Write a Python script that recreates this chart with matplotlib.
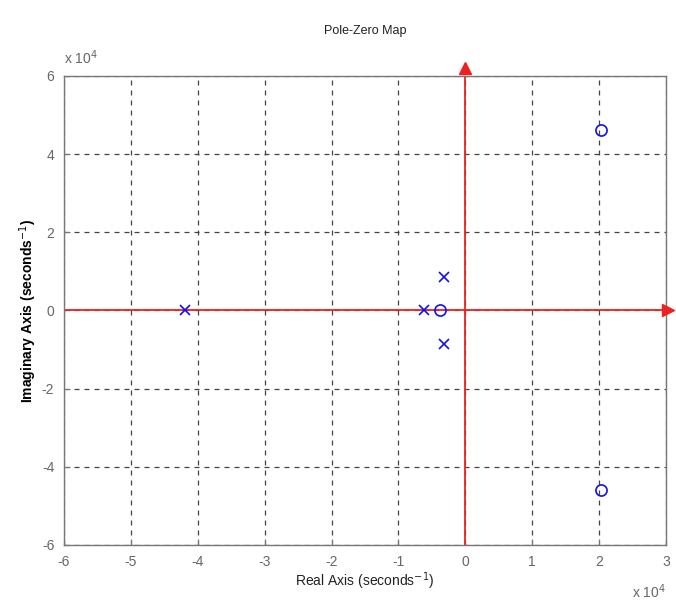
import matplotlib.pyplot as plt
from matplotlib.ticker import FuncFormatter, MultipleLocator

plt.rcParams['font.family'] = ['Liberation Sans', 'DejaVu Sans']

# pole / zero locations (rad/s)
pole_re = [-4.19e4, -0.62e4, -0.32e4, -0.32e4]
pole_im = [0.0, 0.0, 0.86e4, -0.86e4]
zero_re = [-0.38e4, 2.03e4, 2.03e4]
zero_im = [0.0, 4.62e4, -4.6e4]

xlim = (-6e4, 3e4)
ylim = (-6e4, 6e4)

fig = plt.figure(figsize=(6.76, 6.06), dpi=100)
ax = fig.add_axes([0.0947, 0.1007, 0.8903, 0.7739])

# red coordinate axes with arrowheads
ax.plot(xlim, [0, 0], color='#ee2020', lw=1.3, zorder=2)
ax.plot([0, 0], ylim, color='#ee2020', lw=1.3, zorder=2)
ax.plot([3.03e4], [0], marker='>', color='#ee2020', ms=9, clip_on=False, zorder=3)
ax.plot([0], [6.2e4], marker='^', color='#ee2020', ms=9, clip_on=False, zorder=3)

ax.plot(pole_re, pole_im, 'x', color='#1010ee', ms=7, mew=1.2, ls='none', zorder=4)
ax.plot(zero_re, zero_im, 'o', color='#1010ee', ms=8, mfc='none', mew=1.2, ls='none', zorder=4)

ax.set_xlim(xlim)
ax.set_ylim(ylim)
ax.xaxis.set_major_locator(MultipleLocator(1e4))
ax.yaxis.set_major_locator(MultipleLocator(2e4))
fmt = FuncFormatter(lambda v, p: '%d' % round(v / 1e4))
ax.xaxis.set_major_formatter(fmt)
ax.yaxis.set_major_formatter(fmt)

ax.grid(True, ls=(0, (4, 4)), color='#444444', lw=0.9)
ax.set_axisbelow(True)
for s in ax.spines.values():
    s.set_color('#777777')
    s.set_linewidth(1.0)
ax.tick_params(direction='in', length=4, colors='#777777', labelcolor='#666666',
               labelsize=10, pad=7)

ax.set_title('Pole-Zero Map', fontsize=9, color='#222222', pad=30)
ax.set_xlabel('Real Axis (seconds$^{-1}$)', fontsize=10, color='#222222', labelpad=1)
ax.set_ylabel('Imaginary Axis (seconds$^{-1}$)', fontsize=10, color='#000000',
              fontweight='bold', labelpad=2)

ax.text(0.0, 1.02, 'x 10$^4$', transform=ax.transAxes, fontsize=10, color='#666666',
        ha='left', va='bottom')
ax.text(1.0, -0.08, 'x 10$^4$', transform=ax.transAxes, fontsize=10, color='#666666',
        ha='right', va='top')

fig.savefig('out.png', dpi=100)
